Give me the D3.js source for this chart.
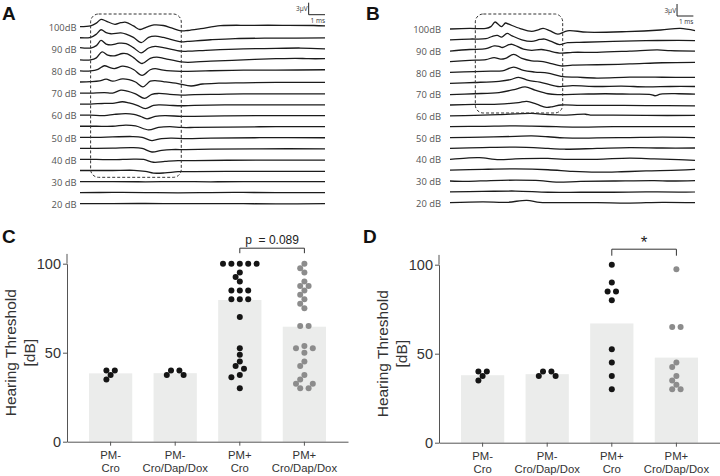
<!DOCTYPE html>
<html><head><meta charset="utf-8">
<script src="https://cdn.jsdelivr.net/npm/d3@7"></script>
<style>body{margin:0;background:#fff}svg{display:block}</style>
</head><body>
<svg id="chart" width="720" height="476"></svg>
<script>
// ---------------- DATA ----------------
const abrLevels = [100,95,90,85,80,75,70,65,60,55,50,45,40,35,30,25,20];
const abrLabelLevels = [100,90,80,70,60,50,40,30,20];
const abrLabelText = ["100dB","90 dB","80 dB","70 dB","60 dB","50 dB","40 dB","30 dB","20 dB"];

// ABR traces, panel A: [time ms, amplitude µV]
const abrTracesA = [
 [[0,0],[0.65,0.2],[1.0,0.9],[1.29,1.85],[1.6,1.4],[2.14,0.6],[2.5,1.0],[2.82,1.1],[3.27,0.2],[3.67,-0.7],[4.08,-0.1],[4.53,0.45],[5.1,0.3],[5.6,-0.3],[6.2,-1.05],[6.6,-0.95],[7.4,-0.5],[8.6,0.25],[10.4,0.35],[12.4,0.35],[14.3,0.3],[15,0.2]],
 [[0,0],[0.65,0.1],[1.0,0.9],[1.29,2.0],[1.6,1.3],[1.9,1.0],[2.5,1.2],[2.82,0.9],[3.27,0.1],[3.75,-1.2],[4.2,0.1],[4.6,0.4],[5.1,0.1],[6.2,-1.0],[6.6,-0.9],[8.0,-0.5],[9.5,-0.2],[12,-0.1],[15,-0.05]],
 [[0,0.3],[0.65,0.2],[1.0,0.8],[1.29,2.1],[1.6,1.2],[1.9,1.0],[2.4,1.4],[2.82,1.3],[3.27,0.3],[3.75,-1.0],[4.2,0.2],[4.6,0.6],[5.1,0.3],[6.2,-0.6],[6.6,-0.6],[8,-0.3],[10,0],[12,0.1],[13.5,0.2],[15,0]],
 [[0,0],[0.65,0],[1.0,0.5],[1.35,2.0],[1.7,1.2],[2.1,1.0],[2.6,1.6],[2.9,1.5],[3.3,0.5],[3.8,-0.9],[4.3,0.4],[4.7,0.7],[5.2,0.3],[6.2,-0.5],[6.6,-0.6],[8,-0.3],[10,0],[12,0.3],[13.2,0.4],[14,0.3],[15,0.3]],
 [[0,0],[0.65,0],[1.1,0.4],[1.5,1.3],[1.8,0.9],[2.1,0.6],[2.6,1.2],[2.9,1.0],[3.3,0.3],[3.8,-1.1],[4.3,0.3],[4.6,0.6],[5.1,0.2],[6.2,-0.1],[6.6,-0.1],[8,0.05],[10,0.2],[12,0.2],[15,0.3]],
 [[0,0],[0.65,0.1],[1.2,0.3],[1.6,0.7],[2.0,0.2],[2.6,0.8],[3.0,0.6],[3.4,0],[3.85,-1.2],[4.3,0.2],[4.6,0.35],[5.1,0.1],[6.0,-0.4],[6.8,-1.0],[7.5,-0.5],[8.5,-0.3],[10,-0.2],[12,-0.1],[15,-0.1]],
 [[0,0],[0.65,0],[1.5,0.1],[2.0,0],[2.5,0.75],[2.9,0.5],[3.4,-0.2],[3.95,-1.3],[4.4,-0.3],[4.8,-0.1],[5.5,-0.3],[6.2,-0.5],[7,-0.4],[8.5,-0.3],[10,-0.2],[12,-0.2],[15,-0.2]],
 [[0,0],[0.65,0],[1.5,0.2],[2.0,0.2],[2.6,0.6],[3.0,0.3],[3.5,-0.3],[4.0,-1.1],[4.5,-0.3],[4.9,-0.2],[5.5,-0.3],[6.2,-0.4],[7,-0.3],[9,-0.2],[12,-0.2],[15,-0.2]],
 [[0,0],[0.65,0],[1.5,-0.1],[2.1,0.2],[2.8,0.4],[3.3,0.2],[3.7,-0.3],[4.1,-0.9],[4.6,-0.3],[5.2,-0.1],[6.2,-0.3],[7,-0.3],[9,-0.15],[12,-0.1],[15,-0.1]],
 [[0,0],[1,0],[2,0],[2.8,0.3],[3.4,0.1],[4.2,-0.9],[4.8,-0.3],[5.5,-0.1],[6.2,-0.3],[7,-0.3],[9,-0.2],[12,-0.1],[15,-0.1]],
 [[0,0],[1,0],[2,0.1],[3.2,0.2],[3.8,0],[4.4,-0.8],[5,-0.3],[5.6,-0.2],[6.5,-0.3],[8,-0.2],[11,-0.1],[15,-0.1]],
 [[0,0],[1,0],[2,0.05],[3.2,0.2],[3.8,0],[4.4,-0.9],[5.0,-0.5],[5.6,-0.3],[6.5,-0.3],[8,-0.2],[11,-0.1],[15,-0.1]],
 [[0,0],[1,0],[2,-0.05],[3.3,0.1],[3.9,0],[4.5,-0.7],[5.2,-0.5],[6,-0.3],[7,-0.3],[9,-0.2],[12,-0.15],[15,-0.15]],
 [[0,0],[1,0],[2,0],[3.3,0.05],[4,-0.2],[4.5,-0.65],[5.2,-0.6],[6,-0.3],[7,-0.3],[10,-0.2],[13,-0.2],[15,-0.2]],
 [[0,0],[2,0],[4,-0.05],[6,0],[8,-0.05],[10,0],[12,0],[15,0]],
 [[0,0],[2,0.05],[4,0],[6,-0.05],[8,0],[10,0.05],[12,0],[15,0]],
 [[0,0],[2,0],[4,0.05],[6,0],[8,0],[10,0],[12,-0.05],[15,0]]
];

// ABR traces, panel B: [time ms, amplitude µV]
const abrTracesB = [
 [[0,0],[1.2,0.15],[2.2,0.15],[2.5,0.6],[2.76,1.75],[3.0,1.0],[3.16,0.6],[3.4,1.5],[3.6,1.2],[4.3,0.1],[5.0,-0.6],[5.4,-0.2],[5.7,0.15],[6.1,-0.4],[6.6,-1.3],[7.0,-0.7],[7.3,-0.4],[8.4,-0.8],[10.8,-0.65],[12.9,-0.25],[14.1,0.15],[15,-0.4]],
 [[0,0],[1.2,0.2],[2.2,0.3],[2.6,0.9],[2.9,1.1],[3.16,0.7],[3.5,1.6],[3.8,1.0],[4.4,0],[5.0,-0.4],[5.5,0.1],[5.8,0.2],[6.2,-0.4],[6.7,-1.2],[7.2,-0.7],[8.2,-0.6],[10,-0.4],[12,-0.2],[14,-0.15],[15,-0.2]],
 [[0,-0.1],[1.2,0.3],[2.2,0.5],[2.7,1.2],[3.0,1.1],[3.2,0.8],[3.6,1.5],[3.8,1.6],[4.5,0.4],[5.0,0.1],[5.6,0.3],[6.0,0],[6.8,-0.6],[7.5,-0.4],[9,-0.4],[11,-0.1],[12.7,0.2],[13.5,0],[15,-0.1]],
 [[0,0],[1.2,0.3],[2.2,0.5],[2.7,1.0],[3.1,0.6],[3.4,0.8],[3.9,1.8],[4.4,0.8],[5,0.2],[5.7,0],[6.2,-0.5],[6.8,-1.1],[7.5,-0.9],[9,-0.8],[11,-0.6],[13,-0.3],[15,-0.2]],
 [[0,0],[1.5,0.2],[2.5,0.3],[3.2,0.4],[3.9,1.3],[4.5,0.5],[5.2,0.1],[6,-0.2],[6.8,-1.0],[7.8,-1.2],[9,-1.4],[11,-1.2],[13,-1.2],[15,-1.25]],
 [[0,0],[1.5,0.2],[3,0.5],[3.7,0.9],[4.2,1.5],[4.8,0.7],[5.5,0.3],[6.6,-0.8],[7.5,-0.6],[9,-0.8],[10.5,-0.7],[12,-0.9],[13.5,-0.8],[15,-0.8]],
 [[0,-0.1],[1.5,0.1],[3,0.4],[4.0,1.2],[4.6,1.8],[5.2,1.0],[6,0.1],[6.6,-0.1],[8,0],[9.5,0.1],[11,0],[12.3,-0.1],[12.55,-0.4],[12.9,0],[14,0.1],[15,0]],
 [[0,0],[1.5,0.15],[3,0.2],[4.2,0.6],[4.7,0.9],[5.3,0.2],[5.9,-0.6],[6.3,-0.4],[6.8,0],[8,-0.1],[10,-0.1],[12,-0.15],[15,-0.2]],
 [[0,0],[1.5,0.1],[3,0.3],[5,0.6],[6,0.3],[7,0.2],[8.3,0.4],[8.6,0.2],[10,0.2],[12,0.1],[15,0.1]],
 [[0,0],[2,0.1],[4,0.2],[5,0.15],[6.5,0],[8,-0.1],[10,0],[12,0],[15,0]],
 [[0,0],[2,0.1],[4,0.3],[5,0.4],[6,0.2],[7,-0.1],[9,-0.1],[11,0],[13,0.1],[15,0]],
 [[0,0],[2,0.2],[4,0.3],[6,0],[7,-0.2],[9,0],[11,0.2],[13,0.1],[15,0.1]],
 [[0,0],[1,0.3],[1.8,0.4],[3,-0.1],[4,0.1],[6,0.2],[7,0],[9,0],[11,0.3],[12.5,0.1],[14,-0.1],[15,-0.3]],
 [[0,0],[2,0.2],[4,0.3],[6,0.1],[7.5,-0.3],[9,-0.5],[10.5,-0.4],[12,-0.2],[14,0],[15,0.2]],
 [[0,0],[1,-0.1],[2.5,0.1],[4,0.2],[5.5,0.1],[6.5,-0.3],[8,-0.1],[10,0],[12.5,0.1],[13.5,0],[15,0.1]],
 [[0,0],[2,0.1],[4,0.2],[6,-0.1],[8,-0.1],[10,-0.1],[12,0],[14,-0.05],[15,0]],
 [[0,0],[2,0.2],[3.5,0.1],[4.7,0.6],[5.5,0.1],[7,0],[9,0],[11,-0.1],[13,0.1],[15,0]]
];

// highlighted response windows: [t start, t end] ms and level range [top, bottom]
const boxA = {t: [0.65, 6.2], levels: [100, 35]};
const boxB = {t: [1.55, 6.9], levels: [100, 65]};

// Hearing thresholds (dB)
const groups = ["PM- Cro", "PM- Cro/Dap/Dox", "PM+ Cro", "PM+ Cro/Dap/Dox"];
const groupLine1 = ["PM-", "PM-", "PM+", "PM+"];
const groupLine2 = ["Cro", "Cro/Dap/Dox", "Cro", "Cro/Dap/Dox"];
const yTicks = [0, 50, 100];
const yAxisTop = 105.5;

const cPMminusCro = [40, 40, 37.5, 35];
const cPMminusCDD = [40, 37.5, 37.5, 40];
const cPMplusCro  = [100,100,100,100,100,95,92.5,90,85,85,85,80,80,80,70,52.5,48.8,45,42.5,41,37.5,36.2,30];
const cPMplusCDD  = [100,97.5,95,90,87.5,87.5,85,82.5,80,77.5,75,65,65,53.8,52.5,52.5,50,45,42.5,37.5,35,32.5,32.5,30,30];
const cBars = [38.4, 38.5, 79.6, 64.6];
const cAnnot = "p\u00A0\u00A0= 0.089";

const dPMminusCro = [40, 40, 37.5, 35];
const dPMminusCDD = [40, 37.5, 37.5, 40];
const dPMplusCro  = [100, 90, 85, 85, 80, 52.5, 45, 37.5, 30];
const dPMplusCDD  = [97.5, 65, 65, 45, 42.5, 37.5, 35, 32.5, 30, 30];
const dBars = [37.9, 38.5, 67, 47.8];
const dAnnot = "*";

const dotColors = ["#151515", "#151515", "#151515", "#8c8c8c"];

// ---------------- DRAW ----------------
const svg = d3.select("#chart");
const traceFont = "'Open Sans', 'DejaVu Sans', sans-serif";
const chartFont = "'Liberation Sans', Arial, sans-serif";

function panelLetter(txt, x, y) {
  svg.append("text").attr("x", x).attr("y", y).text(txt)
    .attr("font-family", chartFont).attr("font-weight", "bold")
    .attr("font-size", 19).attr("fill", "#111");
}

function drawAbr(traces, box, o) {
  const g = svg.append("g");
  const x = d3.scaleLinear().domain([0, 15]).range([o.x0, o.x1]);
  const yBase = d3.scalePoint().domain(abrLevels).range([o.top, o.bottom]);
  const amp = d3.scaleLinear().domain([0, 1]).range([0, -o.pxPerUV]);
  const line = d3.line().x(d => x(d[0])).y(d => amp(d[1]))
    .curve(d3.curveCatmullRom.alpha(0.5));

  g.selectAll("path.trace").data(traces).join("path")
    .attr("class", "trace")
    .attr("transform", (d, i) => `translate(0,${yBase(abrLevels[i])})`)
    .attr("d", line)
    .attr("fill", "none").attr("stroke", "#1b1b1b")
    .attr("stroke-width", 1.3).attr("stroke-linejoin", "round");

  g.selectAll("text.lvl").data(abrLabelLevels).join("text")
    .attr("class", "lvl")
    .attr("x", o.labelX).attr("y", d => yBase(d) + 4.2)
    .attr("text-anchor", "end")
    .attr("font-family", traceFont).attr("font-size", 9.4)
    .attr("fill", "#555")
    .text((d, i) => abrLabelText[i]);

  // dashed box
  const bx0 = x(box.t[0]), bx1 = x(box.t[1]);
  const by0 = yBase(box.levels[0]) - o.boxPadTop, by1 = yBase(box.levels[1]) + o.boxPadBottom;
  g.append("rect").attr("x", bx0).attr("y", by0)
    .attr("width", bx1 - bx0).attr("height", by1 - by0)
    .attr("rx", 8).attr("ry", 8)
    .attr("fill", "none").attr("stroke", "#333")
    .attr("stroke-width", 1).attr("stroke-dasharray", "3,2");

  // scale bar: 3 µV / 1 ms
  const sx0 = x(o.barT), sx1 = x(o.barT + 1);
  const sy = o.barY, sy0 = sy + amp(3);
  g.append("path")
    .attr("d", `M${sx0},${sy0}V${sy}H${sx1}`)
    .attr("fill", "none").attr("stroke", "#222").attr("stroke-width", 1);
  g.append("text").attr("x", sx0 - 1).attr("y", sy - 3.5)
    .attr("text-anchor", "end").attr("font-family", traceFont)
    .attr("font-size", 6.5).attr("fill", "#333").text("3µV");
  g.append("text").attr("x", (sx0 + sx1) / 2 + 1).attr("y", sy + 8)
    .attr("text-anchor", "middle").attr("font-family", traceFont)
    .attr("font-size", 6.5).attr("fill", "#333").text("1 ms");
}

function beeswarm(values, y, h, minDist) {
  const byVal = d3.groups(values, v => v).sort((a, b) => b[0] - a[0]);
  const placed = [];
  const ok = (px, py) => placed.every(p => Math.hypot(p.x - px, p.y - py) >= minDist);
  const shifts = [0];
  for (let k = 1; k < 12; k++) shifts.push(-k * h, k * h);
  byVal.forEach(([v, arr]) => {
    const n = arr.length, py = y(v);
    let done = false;
    const mults = n > 1 ? [1, 2, 3] : [1];
    outer:
    for (const s of shifts) {
      for (const m of mults) {
        const xs = arr.map((_, i) => s + (i - (n - 1) / 2) * 2 * h * m);
        if (xs.every(px => ok(px, py))) {
          xs.forEach(px => placed.push({x: px, y: py, v}));
          done = true; break outer;
        }
      }
    }
    if (!done) arr.forEach((_, i) => placed.push({x: (i - (n - 1) / 2) * 2 * h, y: py, v}));
  });
  return placed;
}

function drawThreshold(series, bars, annot, o) {
  const g = svg.append("g");
  const x = d3.scaleBand().domain(groups).range([o.x0, o.x0 + 281])
    .paddingInner(0.33).paddingOuter(0.34);
  const y = d3.scaleLinear().domain([0, 100]).range([o.y0, o.y0 - 178]);

  g.selectAll("rect.bar").data(bars).join("rect")
    .attr("class", "bar")
    .attr("x", (d, i) => x(groups[i])).attr("width", x.bandwidth())
    .attr("y", d => y(d)).attr("height", d => y(0) - y(d))
    .attr("fill", "#ebeceb");

  // axes
  const yAxis = d3.axisLeft(y).tickValues(yTicks).tickSize(4).tickSizeOuter(0).tickPadding(2);
  const ya = g.append("g").attr("transform", `translate(${o.x0},0)`).call(yAxis);
  ya.select(".domain").attr("stroke", "#555");
  ya.selectAll(".tick line").attr("stroke", "#555");
  ya.selectAll(".tick text").attr("font-family", chartFont).attr("font-size", 14.5).attr("fill", "#333");
  g.append("line").attr("x1", o.x0).attr("x2", o.x0)
    .attr("y1", y(100)).attr("y2", y(yAxisTop)).attr("stroke", "#555");

  const xAxis = d3.axisBottom(x).tickSize(4).tickSizeOuter(0).tickFormat("");
  const xa = g.append("g").attr("transform", `translate(0,${o.y0})`).call(xAxis);
  xa.select(".domain").attr("stroke", "#555");
  xa.selectAll(".tick line").attr("stroke", "#555");
  groups.forEach((gname, i) => {
    const cx = x(gname) + x.bandwidth() / 2;
    g.append("text").attr("x", cx).attr("y", o.y0 + 17.3).attr("text-anchor", "middle")
      .attr("font-family", chartFont).attr("font-size", 11.3).attr("fill", "#333")
      .text(groupLine1[i]);
    g.append("text").attr("x", cx).attr("y", o.y0 + 30.4).attr("text-anchor", "middle")
      .attr("font-family", chartFont).attr("font-size", 11.3).attr("fill", "#333")
      .text(groupLine2[i]);
  });

  // y title
  const yt = g.append("text").attr("transform", `translate(${o.x0 - 51},${y(50)}) rotate(-90)`)
    .attr("text-anchor", "middle").attr("font-family", chartFont)
    .attr("font-size", 15.5).attr("fill", "#333");
  yt.append("tspan").attr("x", 0).attr("y", 0).text("Hearing Threshold");
  yt.append("tspan").attr("x", 0).attr("y", 19).text("[dB]");

  // dots
  series.forEach((vals, i) => {
    const cx = x(groups[i]) + x.bandwidth() / 2;
    const pts = beeswarm(vals, y, 4.2, 5.9);
    g.selectAll(null).data(pts).join("circle")
      .attr("cx", d => cx + d.x).attr("cy", d => d.y).attr("r", 3)
      .attr("fill", dotColors[i]);
  });

  // significance bracket
  const c2 = x(groups[2]) + x.bandwidth() / 2, c3 = x(groups[3]) + x.bandwidth() / 2;
  const by = y(100) - 15.5;
  g.append("path").attr("d", `M${c2},${by + o.bracketDrop}V${by}H${c3}V${by + o.bracketDrop}`)
    .attr("fill", "none").attr("stroke", "#333").attr("stroke-width", 1);
  g.append("text").attr("x", (c2 + c3) / 2).attr("y", by - o.annotGap)
    .attr("text-anchor", "middle").attr("font-family", chartFont)
    .attr("font-size", o.annotSize).attr("fill", "#222").text(annot);
}

panelLetter("A", 2, 20);
panelLetter("B", 366, 20);
panelLetter("C", 2, 243);
panelLetter("D", 363, 243);

drawAbr(abrTracesA, boxA, {x0: 80, x1: 325, top: 26.7, bottom: 203.7, pxPerUV: 4,
  labelX: 76.5, boxPadTop: 12.7, boxPadBottom: 6.8, barT: 14, barY: 14.7});
drawAbr(abrTracesB, boxB, {x0: 450, x1: 695, top: 29, bottom: 202.7, pxPerUV: 4,
  labelX: 441, boxPadTop: 15, boxPadBottom: 8, barT: 13.9, barY: 16});

drawThreshold([cPMminusCro, cPMminusCDD, cPMplusCro, cPMplusCDD], cBars, cAnnot,
  {x0: 67, y0: 441.7, bracketDrop: 5, annotGap: 4, annotSize: 12});
drawThreshold([dPMminusCro, dPMminusCDD, dPMplusCro, dPMplusCDD], dBars, dAnnot,
  {x0: 439, y0: 442.7, bracketDrop: 6.5, annotGap: 1, annotSize: 17});
</script>
</body></html>
